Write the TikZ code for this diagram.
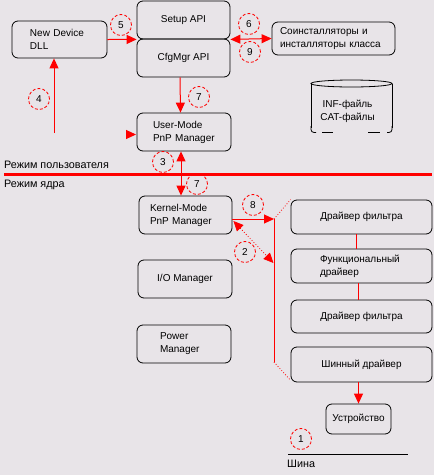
\documentclass[tikz,border=0pt]{standalone}
\usepackage{fontspec}
\setmainfont{Liberation Sans}
\usetikzlibrary{arrows.meta}
\definecolor{bg}{RGB}{232,228,232}
\definecolor{rd}{RGB}{255,0,0}
\begin{document}
\begin{tikzpicture}[x=1pt,y=-1pt,
  bx/.style={draw=black, line width=0.8pt, rounded corners=6pt, inner sep=0pt,
    font=\fontsize{10}{13}\selectfont, align=center},
  lbl/.style={inner sep=0pt, font=\fontsize{10}{13}\selectfont},
  num/.style={circle, draw=rd, line width=0.8pt, dash pattern=on 3pt off 2pt,
    minimum size=21pt, inner sep=0pt, font=\fontsize{10}{12}\selectfont},
  arr/.style={draw=rd, line width=1pt, -{Triangle[length=10pt,width=9pt]}},
  darr/.style={draw=rd, line width=1pt, {Triangle[length=10pt,width=9pt]}-{Triangle[length=10pt,width=9pt]}},
  rline/.style={draw=rd, line width=1pt},
  dotl/.style={draw=rd, line width=0.8pt, dotted}]
\fill[bg] (0,0) rectangle (434,475);
\useasboundingbox (0,0) rectangle (434,475);

% boxes
\node[bx, text width=59pt, inner xsep=18pt, minimum height=37pt, align=left] (dll) at (59.5,39.5) {New Device\\DLL};
\node[bx, minimum width=93pt, minimum height=38pt] (setup) at (183.5,20) {Setup API};
\node[bx, minimum width=93pt, minimum height=38pt] (cfg) at (183.5,58) {CfgMgr API};
\node[bx, text width=107pt, inner xsep=8pt, minimum height=33pt, align=left] (coin) at (333.5,38.5) {Соинсталляторы и\\инсталляторы класса};
\node[bx, text width=62pt, inner xsep=16pt, minimum height=38pt, align=left] (user) at (184,132) {User-Mode\\PnP Manager};
\node[bx, text width=71pt, inner xsep=11pt, minimum height=38pt, align=left] (kernel) at (185.5,215) {Kernel-Mode\\PnP Manager};
\node[bx, minimum width=94pt, minimum height=38pt] (io) at (185,279) {I/O Manager};
\node[bx, text width=48pt, inner xsep=23pt, minimum height=38pt, align=left] (power) at (184,344) {Power\\Manager};
\node[bx, minimum width=141pt, minimum height=34pt] (f1) at (361.5,217) {Драйвер фильтра};
\node[bx, text width=83pt, inner xsep=29pt, minimum height=34pt, align=left] (fd) at (361.5,266) {Функциональный\\драйвер};
\node[bx, minimum width=141pt, minimum height=33pt] (f2) at (361.5,316.5) {Драйвер фильтра};
\node[bx, minimum width=141pt, minimum height=35pt] (bus) at (361.5,364.5) {Шинный драйвер};
\node[bx, minimum width=65pt, minimum height=30pt] (dev) at (358.5,419) {Устройство};

% cylinder (INF / CAT files)
\draw[line width=0.8pt] (351.5,83.5) ellipse [x radius=40.5pt, y radius=3.5pt];
\draw[line width=0.8pt] (311,83.5) -- (311,128);
\draw[line width=0.8pt] (392,83.5) -- (392,128);
\draw[line width=0.8pt, rounded corners=3pt] (311,126) -- (311,132.5) -- (316,132.5);
\draw[line width=0.8pt, rounded corners=3pt] (387,132.5) -- (392,132.5) -- (392,126);
\draw[line width=0.8pt] (322,132.5) -- (333,132.5);
\draw[line width=0.8pt] (368,132.5) -- (380,132.5);
\node[lbl, align=center] (cyl) at (347.5,111) {INF-файль\\CAT-файлы};

% mode labels and separator
\node[lbl, anchor=west, font=\fontsize{10.8}{13}\selectfont] (um) at (4,165) {Режим пользователя};
\node[lbl, anchor=west, font=\fontsize{10.8}{13}\selectfont] (km) at (4,184.5) {Режим ядра};
\coordinate (sepL) at (4,174.5);
\coordinate (sepR) at (432,174.5);
\draw[draw=rd, line width=3pt] (sepL) -- (sepR);

% bus line
\coordinate (busL) at (288,454);
\coordinate (busR) at (408,454);
\draw[line width=0.8pt] (busL) -- (busR);
\node[lbl, anchor=west, font=\fontsize{10.8}{13}\selectfont] (bustxt) at (287,464) {Шина};

% connectors
\draw[arr] (dll.east) -- (setup.south west);
\draw[darr] (setup.south east) -- (coin.west);
\coordinate (s4) at (54,133);
\draw[arr] (s4) -- (dll.south -| s4);
\draw[arr] ([xshift=-3.5pt]cfg.south) -- ([xshift=-3.5pt]user.north);
\coordinate (tipS) at (126,134.5);
\coordinate (tipE) at (136,134.5);
\draw[arr] (tipS) -- (tipE);
\draw[darr] ([xshift=-3pt]user.south) -- ([xshift=-4.5pt]kernel.north);

\coordinate (j1) at (274,219);
\coordinate (j2) at (274,362);
\coordinate (j3) at (273.5,263);
\draw[arr] (kernel.east |- j1) -- (j1);
\draw[rline] (j1) -- (j2);
\draw[dotl] (j1) -- (f1.north west);
\draw[dotl] (j2) -- ([yshift=2pt]bus.south west);
\draw[dotl, {Triangle[length=10pt,width=9pt]}-{Triangle[length=10pt,width=9pt]}] ([xshift=1pt,yshift=-6pt]kernel.east) -- (j3);

\draw[rline] ([xshift=-5.5pt]f1.south) -- ([xshift=-5.5pt]fd.north);
\draw[rline] ([xshift=-3.5pt]fd.south) -- ([xshift=-3.5pt]f2.north);
\draw[arr] (bus.south -| dev.north) -- (dev.north);

% step numbers
\node[num] (n5) at (121,25) {5};
\node[num] (n6) at (249,24) {6};
\node[num] (n9) at (250,52) {9};
\node[num] (n4) at (39,99) {4};
\node[num] (n7a) at (199,97) {7};
\node[num] (n3) at (163,162) {3};
\node[num] (n7b) at (197,184) {7};
\node[num] (n8) at (253,205) {8};
\node[num] (n2) at (245,252) {2};
\node[num] (n1) at (301,439) {1};
\end{tikzpicture}
\end{document}
